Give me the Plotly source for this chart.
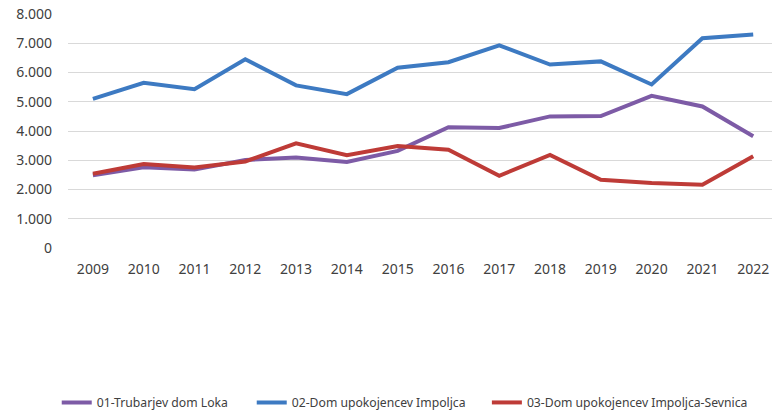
import plotly.graph_objects as go

years = ["2009", "2010", "2011", "2012", "2013", "2014", "2015", "2016",
         "2017", "2018", "2019", "2020", "2021", "2022"]
loka = [2490, 2760, 2680, 3010, 3090, 2940, 3320, 4130, 4100, 4500, 4510, 5200, 4840, 3820]
impoljca = [5100, 5650, 5430, 6450, 5560, 5260, 6160, 6350, 6930, 6270, 6380, 5590, 7170, 7300]
sevnica = [2540, 2870, 2750, 2960, 3580, 3170, 3490, 3360, 2470, 3180, 2330, 2220, 2160, 3140]

names = ["01-Trubarjev dom Loka", "02-Dom upokojencev Impoljca",
         "03-Dom upokojencev Impoljca-Sevnica"]
colors = ["#7D5BA6", "#3D7AC2", "#BE3B37"]
y_ticks = [0, 1000, 2000, 3000, 4000, 5000, 6000, 7000, 8000]

legend_ids = ["legend", "legend2", "legend3"]
legend_x = [-0.016, 0.261, 0.595]

fig = go.Figure()
for name, vals, col, lg in zip(names, [loka, impoljca, sevnica], colors, legend_ids):
    fig.add_trace(go.Scatter(x=years, y=vals, name=name, mode="lines",
                             line=dict(color=col, width=4), legend=lg))

fam = "Noto Sans, Open Sans, sans-serif"
font = dict(family=fam, color="#404040")
legend_common = dict(orientation="h", xanchor="left", y=-0.66, yanchor="middle",
                     font=dict(size=12.2, family=fam, color="#404040"),
                     bgcolor="rgba(0,0,0,0)")
layout_legends = {lg: dict(x=lx, **legend_common) for lg, lx in zip(legend_ids, legend_x)}

fig.update_layout(
    width=772, height=417,
    margin=dict(l=68, r=0, t=14, b=166),
    plot_bgcolor="white", paper_bgcolor="white",
    separators=",.",
    font=font,
    showlegend=True,
    xaxis=dict(type="category", range=[-0.49, 13.37], showgrid=False,
               showline=False, zeroline=False, ticks="", automargin=False,
               tickfont=dict(size=14), ticklabelstandoff=11),
    yaxis=dict(range=[0, 8000], tickvals=y_ticks, tickformat=",d",
               showgrid=True, gridcolor="#D9D9D9", gridwidth=1,
               zeroline=False, showline=False, ticks="", automargin=False,
               tickfont=dict(size=14), ticklabelstandoff=15),
    **layout_legends,
)
fig.write_html("out.html", config={"displayModeBar": False},
               post_script="document.body.style.margin='0';")
